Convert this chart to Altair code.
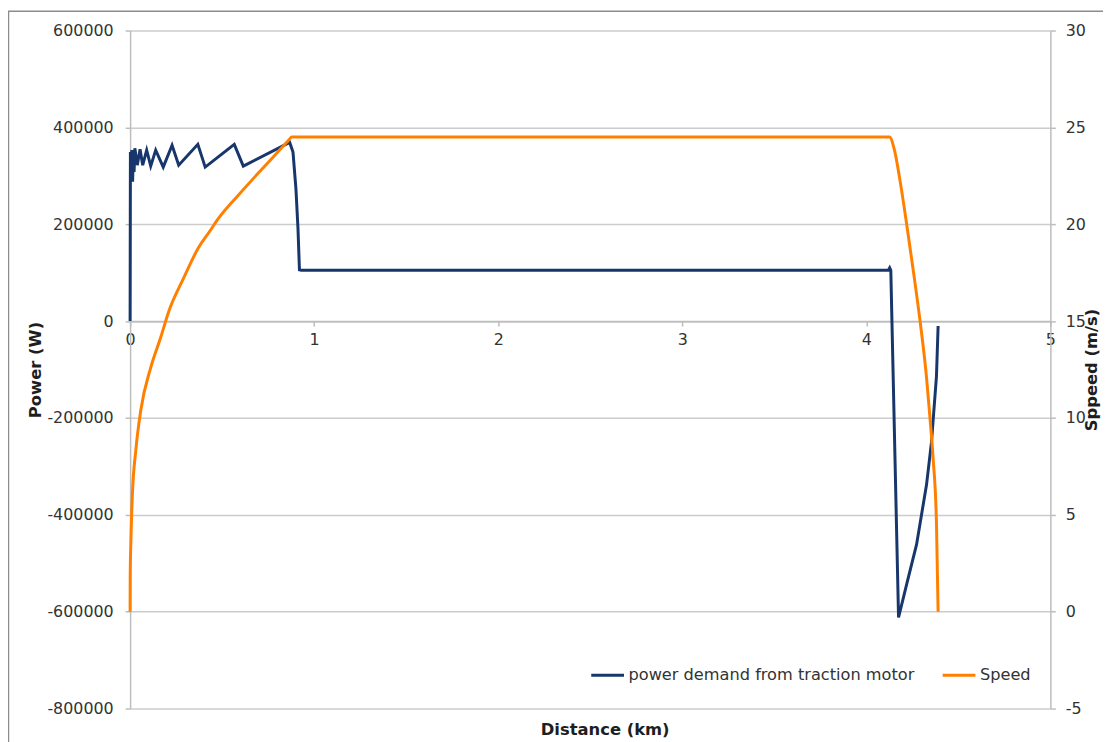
import altair as alt
import pandas as pd

# ---------------- data ----------------
power_km = [0, 0.0016, 0.0054, 0.0092, 0.0135, 0.0178, 0.0216, 0.0259, 0.039, 0.054,
            0.0685, 0.09, 0.112, 0.139, 0.18, 0.228, 0.264, 0.368, 0.408, 0.566,
            0.615, 0.867, 0.885, 0.901, 0.912, 0.92, 0.93, 4.12, 4.127, 4.133,
            4.175, 4.22, 4.273, 4.327, 4.354, 4.381, 4.39]
power_w = [0, 349000, 298000, 353000, 288000, 349000, 308000, 357000, 322000, 355000,
           322000, 353000, 320000, 353000, 318000, 363000, 322000, 365000, 318000, 365000,
           320000, 369000, 349000, 273000, 192000, 106000, 105000, 105000, 110000, 105000,
           -612000, -542000, -461000, -338000, -250000, -114000, -10000]

speed_km = [0, 0.0005, 0.004, 0.012, 0.031, 0.058, 0.112, 0.166, 0.21, 0.29,
            0.372, 0.43, 0.48, 0.588, 0.712, 0.80, 0.858, 0.879, 4.126, 4.151,
            4.184, 4.22, 4.256, 4.292, 4.327, 4.345, 4.363, 4.381, 4.39]
speed_ms = [0, 1.8, 3.55, 5.95, 8.33, 10.4, 12.6, 14.15, 15.5, 17.2,
            18.8, 19.6, 20.3, 21.5, 22.8, 23.7, 24.3, 24.5, 24.5, 23.9,
            22.2, 19.95, 17.55, 15.0, 12.1, 10.1, 7.9, 4.6, 0]

series_names = ["power demand from traction motor", "Speed"]
series_colors = ["#17366b", "#ff8000"]

power_ticks = [-800000, -600000, -400000, -200000, 0, 200000, 400000, 600000]
speed_ticks = [-5, 0, 5, 10, 15, 20, 25, 30]
dist_ticks = [0, 1, 2, 3, 4, 5]

# ---------------- styling ----------------
FONT = "DejaVu Sans"
W, H = 927, 683
GRID = "#cccccc"
AXIS = "#bdbdbd"
TXT = "#333333"
TTL = "#1e1e1e"
LBL = 16
TSZ = 16.5
ZERO_OFFSET = -(H * 800000 / 1400000)  # place the distance axis on Power = 0
AXIS_Y = 28 + H + ZERO_OFFSET           # page y of the distance axis line

power_df = pd.DataFrame({"Distance": power_km, "Power": power_w, "Series": series_names[0]})
speed_df = pd.DataFrame({"Distance": speed_km, "Speed": speed_ms, "Series": series_names[1]})

color = alt.Color(
    "Series:N",
    scale=alt.Scale(domain=series_names, range=series_colors),
    legend=alt.Legend(
        title=None, orient="none", legendX=463, legendY=631, direction="horizontal",
        symbolType="stroke", symbolSize=1089, symbolStrokeWidth=3,
        labelFont=FONT, labelFontSize=16.3, labelColor=TXT, labelLimit=600,
        labelOffset=3, columnPadding=22,
    ),
)

x_enc = alt.X(
    "Distance:Q",
    scale=alt.Scale(domain=[0, 5], nice=False, zero=False),
    axis=alt.Axis(
        values=dist_ticks, labelExpr="toString(datum.value)", grid=False,
        offset=ZERO_OFFSET, labelFlush=False,
        domainColor=AXIS, domainWidth=1.5, tickColor=AXIS, tickWidth=1.5, tickSize=5,
        labelFont=FONT, labelFontSize=LBL, labelColor=TXT, labelPadding=6,
        title="Distance (km)", titleFont=FONT, titleFontSize=TSZ, titleFontWeight="bold",
        titleColor=TTL, titleX=478, titleY=737 - AXIS_Y,
        titleBaseline="alphabetic", titleAlign="center",
    ),
)

power_line = alt.Chart(power_df).mark_line(strokeWidth=3, interpolate="linear").encode(
    x=x_enc,
    y=alt.Y(
        "Power:Q",
        scale=alt.Scale(domain=[-800000, 600000], nice=False, zero=False),
        axis=alt.Axis(
            orient="left", values=power_ticks, labelExpr="toString(datum.value)",
            grid=True, gridColor=GRID, gridWidth=1.5,
            domainColor=AXIS, domainWidth=1.5, tickColor=AXIS, tickWidth=1.5, tickSize=5,
            labelFont=FONT, labelFontSize=LBL, labelColor=TXT, labelPadding=12,
            title="Power (W)", titleFont=FONT, titleFontSize=TSZ, titleFontWeight="bold",
            titleColor=TTL, titlePadding=3,
        ),
    ),
    color=color,
)

speed_line = alt.Chart(speed_df).mark_line(strokeWidth=3, interpolate="monotone").encode(
    x=x_enc,
    y=alt.Y(
        "Speed:Q",
        scale=alt.Scale(domain=[-5, 30], nice=False, zero=False),
        axis=alt.Axis(
            orient="right", values=speed_ticks, labelExpr="toString(datum.value)", grid=False,
            domainColor=AXIS, domainWidth=1.5, tickColor=AXIS, tickWidth=1.5, tickSize=5,
            labelFont=FONT, labelFontSize=LBL, labelColor=TXT, labelPadding=10,
            title="Sppeed (m/s)", titleFont=FONT, titleFontSize=TSZ, titleFontWeight="bold",
            titleColor=TTL, titleAngle=270, titleX=46, titleBaseline="alphabetic",
        ),
    ),
    color=color,
)

frame = alt.Chart(alt.Data(values=[{"k": 1}])).mark_rect(
    filled=False, stroke="#8c8c8c", strokeWidth=1.5
).encode(
    x=alt.value(-122.5), x2=alt.value(W + 80),
    y=alt.value(-19.5), y2=alt.value(H + 80),
)

chart = (
    alt.layer(frame, power_line, speed_line)
    .resolve_scale(y="independent")
    .properties(
        width=W, height=H,
        autosize=alt.AutoSizeParams(type="none"),
        padding={"left": 123, "top": 20, "right": 53, "bottom": 31},
        background="white",
    )
    .configure_view(stroke=None)
)

chart.save("out.html", embed_options={"renderer": "svg", "actions": False})
